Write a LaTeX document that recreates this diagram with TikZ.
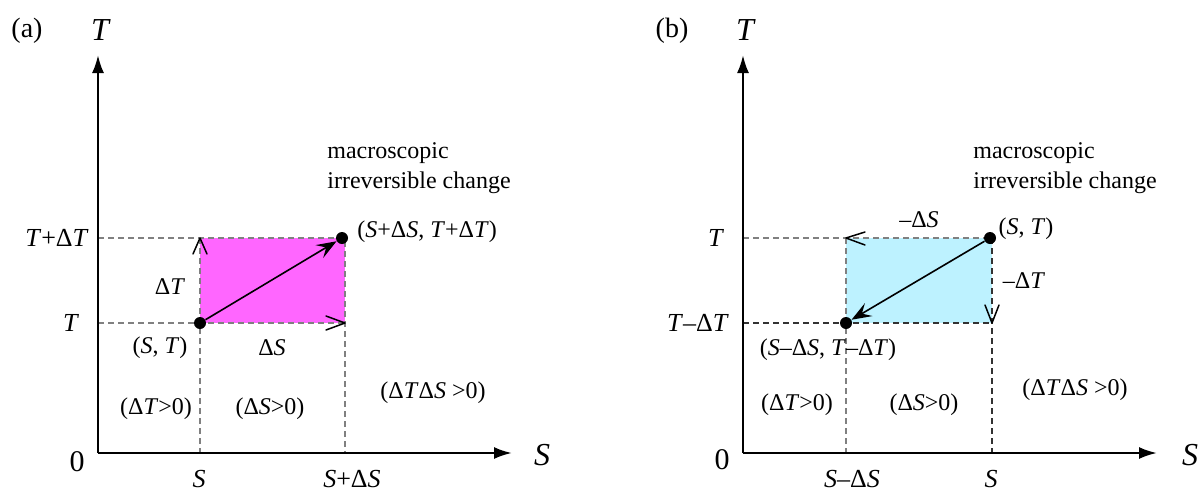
\documentclass[tikz,border=0pt]{standalone}
\usepackage{fontspec}
\setmainfont{Liberation Serif}
\usetikzlibrary{arrows.meta}
\definecolor{mag}{HTML}{FF66FF}
\definecolor{cy}{HTML}{BDF2FF}
\definecolor{gguide}{HTML}{808080}
\definecolor{dguide}{HTML}{333333}
\begin{document}
\begin{tikzpicture}[x=0.5pt,y=-0.5pt,
  lbl/.style={inner sep=0pt,font=\fontsize{12}{15}\selectfont},
  tick/.style={inner sep=0pt,font=\fontsize{13}{15}\selectfont},
  axl/.style={inner sep=0pt,font=\fontsize{16}{18}\selectfont\itshape},
  pan/.style={inner sep=0pt,font=\fontsize{14}{16}\selectfont},
  zero/.style={inner sep=0pt,font=\fontsize{15}{17}\selectfont},
  axis/.style={line width=1.2pt,-{Latex[length=9pt,width=6pt]}},
  guide/.style={gguide,line width=0.9pt,dash pattern=on 3pt off 2pt},
  dguide/.style={guide,draw=dguide},
  barb/.style={line width=0.75pt,line cap=round,line join=round},
  dot/.style={circle,fill=black,inner sep=0pt,minimum size=6pt},
  move/.style={line width=0.8pt,-{Stealth[length=10pt,width=7.5pt,inset=4pt]}}
]
\useasboundingbox (0,0) rectangle (1200,493);

% ---------------- panel (a) ----------------
\coordinate (oa) at (98,453);
\coordinate (ya) at (98,55);
\coordinate (xa) at (512,453);
\coordinate (a1) at (200,238);
\coordinate (a2) at (345,238);
\coordinate (a3) at (200,323);
\coordinate (a4) at (345,323);
\coordinate (aTT) at (98,238);
\coordinate (aT) at (98,323);
\coordinate (aS) at (200,453);
\coordinate (aSS) at (345,453);

\fill[mag] (a1) rectangle (a4);
\draw[guide] (aTT) -- (a2) -- (aSS);
\draw[guide] (aT) -- (a4);
\draw[guide] (a1) -- (aS);
\draw[axis] (oa) -- (ya);
\draw[axis] (oa) -- (xa);

\node[dot] (pa0) at (200,323) {};
\node[dot] (pa1) at (342,238) {};
\draw[move] (pa0) -- (pa1);

\draw[barb] (a1) ++(-7,16) -- (a1) -- ++(7,16);
\draw[barb] (a4) ++(-19,-7) -- (a4) -- ++(-19,7);

\node[pan] (la) at (27,31) {(a)};
\node[axl] (lTa) at (100,30) {T};
\node[axl] (lSa) at (542,455) {S};
\node[zero] (l0a) at (77,462) {0};
\node[tick] (tSa) at (199,479) {\textit{S}};
\node[tick] (tSSa) at (352,479) {\textit{S}+Δ\textit{S}};
\node[tick] (tTTa) at (57,238) {\textit{T}+Δ\textit{T}};
\node[tick] (tTa) at (71,323) {\textit{T}};
\node[lbl,align=left,anchor=west] (mca) at (327,168) {macroscopic\\irreversible change};
\node[lbl,anchor=west] (pta) at (357,232) {(\textit{S}+Δ\textit{S}, \textit{T}+Δ\textit{T})};
\node[lbl] (dTa) at (170,287) {Δ\textit{T}};
\node[lbl] (sta) at (160,348) {(\textit{S}, \textit{T})};
\node[lbl] (dSa) at (272,348) {Δ\textit{S}};
\node[lbl] (c1a) at (156,409) {(Δ\textit{T}>0)};
\node[lbl] (c2a) at (270,409) {(Δ\textit{S}>0)};
\node[lbl] (c3a) at (433,393) {(Δ\textit{T}Δ\textit{S} >0)};

% ---------------- panel (b) ----------------
\coordinate (ob) at (743,453);
\coordinate (yb) at (743,55);
\coordinate (xb) at (1157,453);
\coordinate (b1) at (846,238);
\coordinate (b2) at (992,238);
\coordinate (b3) at (846,323);
\coordinate (b4) at (992,323);
\coordinate (bT) at (743,238);
\coordinate (bTT) at (743,323);
\coordinate (bSS) at (846,453);
\coordinate (bS) at (992,453);

\fill[cy] (b1) rectangle (b4);
\draw[guide] (bT) -- (b2);
\draw[guide] (b1) -- (bSS);
\draw[dguide] (bTT) -- (b4);
\draw[dguide] (b2) -- (bS);
\draw[axis] (ob) -- (yb);
\draw[axis] (ob) -- (xb);

\node[dot] (pb0) at (990,238) {};
\node[dot] (pb1) at (846,323) {};
\draw[move] (pb0) -- (pb1);

\draw[barb] (b1) ++(19,-6) -- (b1) -- ++(19,7);
\draw[barb] (b4) ++(-7,-18) -- (b4) -- ++(7,-18);

\node[pan] (lb) at (672,31) {(b)};
\node[axl] (lTb) at (745,30) {T};
\node[axl] (lSb) at (1190,455) {S};
\node[zero] (l0b) at (722,460) {0};
\node[tick] (tSSb) at (852,479) {\textit{S}–Δ\textit{S}};
\node[tick] (tSb) at (991,479) {\textit{S}};
\node[tick] (tTb) at (716,238) {\textit{T}};
\node[tick] (tTTb) at (698,323) {\textit{T}–Δ\textit{T}};
\node[lbl,align=left,anchor=west] (mcb) at (973,168) {macroscopic\\irreversible change};
\node[lbl] (dSb) at (919,220) {–Δ\textit{S}};
\node[lbl] (stb) at (1026,229) {(\textit{S}, \textit{T})};
\node[lbl] (dTb) at (1024,281) {–Δ\textit{T}};
\node[lbl] (ptb) at (828,350) {(\textit{S}–Δ\textit{S}, \textit{T}–Δ\textit{T})};
\node[lbl] (c1b) at (797,405) {(Δ\textit{T}>0)};
\node[lbl] (c2b) at (924,405) {(Δ\textit{S}>0)};
\node[lbl] (c3b) at (1075,390) {(Δ\textit{T}Δ\textit{S} >0)};
\end{tikzpicture}
\end{document}
